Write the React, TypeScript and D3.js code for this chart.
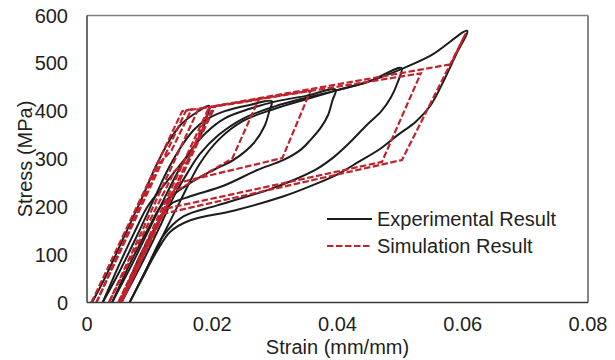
import React from "react";
import * as d3 from "d3";

type Pt = [number, number];

// ---- Tick labels ----
const xTicks = [0, 0.02, 0.04, 0.06, 0.08];
const xTickLabels = ["0", "0.02", "0.04", "0.06", "0.08"];
const yTicks = [0, 100, 200, 300, 400, 500, 600];
const yTickLabels = ["0", "100", "200", "300", "400", "500", "600"];

// ---- Experimental result (strain, stress MPa), one array per load/unload cycle ----
const exp1: Pt[] = [
  [0.0008, 0], [0.003, 55], [0.006, 140], [0.009, 225], [0.011, 285], [0.013, 335],
  [0.015, 372], [0.017, 393], [0.0195, 411],
  [0.0188, 375], [0.018, 345], [0.0165, 315], [0.015, 290], [0.0133, 262],
  [0.0115, 232], [0.0096, 199], [0.0075, 145], [0.005, 75], [0.0025, 0],
];
const exp2: Pt[] = [
  [0.0025, 0], [0.005, 60], [0.008, 140], [0.011, 225], [0.013, 280], [0.015, 325],
  [0.017, 360], [0.019, 382], [0.022, 400], [0.026, 413], [0.0295, 421],
  [0.0291, 400], [0.0284, 370], [0.0266, 333], [0.0234, 298], [0.0202, 277],
  [0.0165, 250], [0.0122, 208], [0.010, 160], [0.007, 85], [0.004, 0],
];
const exp3: Pt[] = [
  [0.004, 0], [0.007, 75], [0.010, 155], [0.013, 235], [0.015, 285], [0.017, 325],
  [0.019, 355], [0.022, 385], [0.026, 405], [0.030, 420], [0.035, 432], [0.0397, 445],
  [0.0392, 423], [0.0385, 392], [0.0373, 365], [0.0357, 340], [0.0341, 319],
  [0.0314, 298], [0.0272, 277], [0.0218, 244], [0.0165, 222], [0.0133, 205],
  [0.011, 160], [0.008, 85], [0.0055, 0],
];
const exp4: Pt[] = [
  [0.0055, 0], [0.0085, 75], [0.0115, 155], [0.014, 225], [0.016, 270], [0.018, 310],
  [0.021, 350], [0.025, 385], [0.030, 410], [0.035, 428], [0.040, 444], [0.045, 462],
  [0.0502, 490],
  [0.0496, 460], [0.0485, 428], [0.047, 400], [0.0446, 370], [0.042, 335],
  [0.0395, 305], [0.0368, 280], [0.0328, 255], [0.0288, 235], [0.0208, 203],
  [0.0154, 180], [0.0122, 140], [0.0095, 70], [0.0068, 0],
];
const exp5: Pt[] = [
  [0.0068, 0], [0.0095, 70], [0.0125, 150], [0.015, 215], [0.018, 290], [0.021, 340],
  [0.025, 380], [0.030, 405], [0.035, 425], [0.040, 444], [0.045, 462], [0.050, 487],
  [0.055, 517], [0.0607, 568],
  [0.059, 520], [0.0572, 470], [0.0549, 413], [0.0525, 378], [0.0496, 350],
  [0.0469, 322], [0.0435, 295], [0.040, 268], [0.036, 245], [0.0314, 222],
  [0.0234, 192], [0.0165, 172], [0.0133, 148], [0.0111, 106], [0.009, 55], [0.0068, 0],
];

// ---- Simulation result ----
const sim1: Pt[] = [
  [0.0007, 0], [0.0152, 400], [0.0167, 404], [0.0135, 318], [0.0115, 290], [0.0015, 0],
];
const sim2: Pt[] = [
  [0.0015, 0], [0.0158, 401], [0.0197, 409], [0.0162, 300], [0.014, 275], [0.0035, 0],
];
const sim3: Pt[] = [
  [0.0035, 0], [0.0178, 405], [0.0274, 424], [0.0232, 301], [0.0135, 228], [0.005, 0],
];
const sim4: Pt[] = [
  [0.005, 0], [0.0195, 408], [0.0357, 443], [0.0312, 302], [0.0145, 250], [0.0052, 0],
];
const sim5: Pt[] = [
  [0.0052, 0], [0.0202, 410], [0.0533, 479], [0.0471, 294], [0.0125, 196], [0.0055, 0],
];
const sim6: Pt[] = [
  [0.0055, 0], [0.0205, 411], [0.0581, 498], [0.0605, 563], [0.0503, 298],
  [0.012, 185], [0.0053, 0],
];

const expSeries = [exp1, exp2, exp3, exp4, exp5];
const simSeries = [sim1, sim2, sim3, sim4, sim5, sim6];

const W = 615;
const H = 360;
const M = { left: 87, right: 588, top: 15.5, bottom: 302.5 };
const FONT = "'Liberation Sans', Arial, sans-serif";
const RED = "#c1222c";
const BLACK = "#1c1c1c";

export default function App() {
  const x = d3.scaleLinear().domain([0, 0.08]).range([M.left, M.right]);
  const y = d3.scaleLinear().domain([0, 600]).range([M.bottom, M.top]);

  const smooth = d3
    .line<Pt>()
    .x((d) => x(d[0]))
    .y((d) => y(d[1]))
    .curve(d3.curveCatmullRom.alpha(0.5));
  const straight = d3
    .line<Pt>()
    .x((d) => x(d[0]))
    .y((d) => y(d[1]));

  return (
    <svg
      width={W}
      height={H}
      style={{ position: "absolute", left: 0, top: 0, background: "#fff" }}
      fontFamily={FONT}
    >
      <rect x={0} y={0} width={W} height={H} fill="#fff" />
      <defs>
        <clipPath id="plot">
          <rect x={M.left} y={M.top - 5} width={M.right - M.left} height={M.bottom - M.top + 5} />
        </clipPath>
      </defs>

      <g clipPath="url(#plot)">
        {expSeries.map((s, i) => (
          <path key={"e" + i} d={smooth(s) || ""} fill="none" stroke={BLACK} strokeWidth={2} strokeLinejoin="round" />
        ))}
        {simSeries.map((s, i) => (
          <path
            key={"s" + i}
            d={straight(s) || ""}
            fill="none"
            stroke={RED}
            strokeWidth={2.2}
            strokeDasharray="6.5,2.5"
          />
        ))}
      </g>

      {/* frame */}
      <line x1={M.left} x2={M.right} y1={M.top} y2={M.top} stroke="#808080" strokeWidth={1.5} />
      <line x1={M.right} x2={M.right} y1={M.top} y2={M.bottom} stroke="#606060" strokeWidth={1.5} />
      <line x1={M.left} x2={M.left} y1={M.top} y2={M.bottom} stroke="#3a3a3a" strokeWidth={1.5} />
      <line x1={M.left} x2={M.right} y1={M.bottom} y2={M.bottom} stroke="#3a3a3a" strokeWidth={1.5} />

      {/* y tick labels */}
      {yTicks.map((t, i) => (
        <text key={"yt" + i} x={68} y={y(t)} dy="0.35em" textAnchor="end" fontSize={20} fill="#231f20">
          {yTickLabels[i]}
        </text>
      ))}
      {/* x tick labels */}
      {xTicks.map((t, i) => (
        <text key={"xt" + i} x={x(t)} y={331} textAnchor="middle" fontSize={20} fill="#231f20">
          {xTickLabels[i]}
        </text>
      ))}

      <text x={(M.left + M.right) / 2} y={354} textAnchor="middle" fontSize={20} fill="#231f20">
        Strain (mm/mm)
      </text>
      <text
        transform={`translate(32, ${(M.top + M.bottom) / 2}) rotate(-90)`}
        textAnchor="middle"
        fontSize={20}
        fill="#231f20"
      >
        Stress (MPa)
      </text>

      {/* legend */}
      <line x1={327} x2={372} y1={219} y2={219} stroke={BLACK} strokeWidth={2} />
      <text x={377} y={219} dy="0.35em" fontSize={20} fill="#231f20">
        Experimental Result
      </text>
      <line x1={327} x2={372} y1={246} y2={246} stroke={RED} strokeWidth={2.2} strokeDasharray="6.5,2.5" />
      <text x={377} y={246} dy="0.35em" fontSize={20} fill="#231f20">
        Simulation Result
      </text>
    </svg>
  );
}
